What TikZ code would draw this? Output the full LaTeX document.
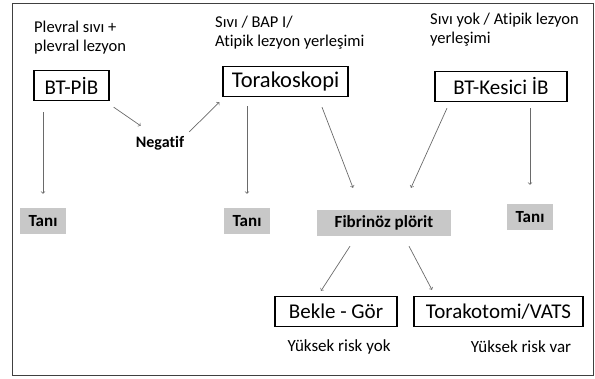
\documentclass[tikz,border=0pt]{standalone}
\usepackage{fontspec}
\setmainfont{Carlito}[Ligatures=NoCommon]
\usetikzlibrary{positioning,calc}
\definecolor{arrowgray}{HTML}{6A6A6A}
\definecolor{boxgray}{HTML}{C8C8C8}

\begin{document}
\begin{tikzpicture}[x=1pt,y=-1pt,
    box/.style={draw,line width=1.3pt,inner sep=0pt,minimum height=30pt,font=\fontsize{21}{24}\selectfont},
    graybox/.style={fill=boxgray,inner sep=0pt,minimum height=26pt,font=\fontsize{17}{19}\selectfont\bfseries},
    note/.style={inner sep=0pt,align=left,anchor=north west,font=\fontsize{16.5}{19}\selectfont},
    risk/.style={inner sep=0pt,font=\fontsize{17}{19}\selectfont},
    arr/.style={->,arrowgray,line width=0.7pt}]
            \useasboundingbox (0,0) rectangle (595,379);
            \draw[line width=1pt,black!75] (12,4) rectangle (593,376);

            \begin{scope}[every node/.style={box}]
                \node[minimum width=75pt] (pib) at (71.5,85.5) {BT-PİB};
                \node[minimum width=125pt,font=\fontsize{22.5}{24}\selectfont] (tks) at (285.5,81.5) {Torakoskopi};
                \node[minimum width=132pt] (kib) at (501,86.5) {BT-Kesici İB};
                \node[minimum width=122pt] (bekle) at (336,311.5) {Bekle - Gör};
                \node[minimum width=169pt] (vats) at (498.5,311.5) {Torakotomi/VATS};
            \end{scope}

            \begin{scope}[every node/.style={graybox}]
                \node[minimum width=46pt] (tani1) at (43,221) {Tanı};
                \node[minimum width=46pt] (tani2) at (247,221) {Tanı};
                \node[minimum width=46pt] (tani3) at (530,217) {Tanı};
                \node[minimum width=134pt] (fib) at (384,223) {Fibrinöz plörit};
            \end{scope}

            \node[inner sep=2pt,font=\fontsize{16}{18}\selectfont\bfseries] (neg) at (160,143) {Negatif};

            \begin{scope}[every node/.style={note}]
                \node (n1) at (34,21) {Plevral sıvı +\\plevral lezyon};
                \node (n2) at (215,16) {Sıvı / BAP I/\\Atipik lezyon yerleşimi};
                \node (n3) at (430,13) {Sıvı yok / Atipik lezyon\\yerleşimi};
            \end{scope}

            \node[risk] (r1) at (339,347) {Yüksek risk yok};
            \node[risk] (r2) at (521,347) {Yüksek risk var};

            \begin{scope}
                \path [arr] (tani1.north |- pib.south) edge[shorten <=11pt,shorten >=14pt] (tani1.north);
                \path [arr] (tani2.north |- tks.south) edge[shorten <=9pt,shorten >=14pt] (tani2.north);
                \path [arr] (tani3.north |- kib.south) edge[shorten <=6pt,shorten >=19pt] (tani3.north);
                \path [arr] ($(pib.south east)+(4,6)$) edge ($(neg.north west)+(7,-8)$);
                \path [arr] ($(neg.north east)+(3,-2)$) edge ($(tks.south west)+(-3,5)$);
                \path [arr] ($(tks.south)+(36.5,10)$) edge ($(fib.north)+(-31,-22)$);
                \path [arr] ($(kib.south)+(-54,6)$) edge ($(fib.north)+(27,-22)$);
                \path [arr] ($(fib.south)+(-34,10)$) edge ($(bekle.north)+(-15,-5)$);
                \path [arr] ($(fib.south)+(25,10)$) edge ($(vats.north)+(-66.5,-6)$);
            \end{scope}
\end{tikzpicture}
\end{document}
